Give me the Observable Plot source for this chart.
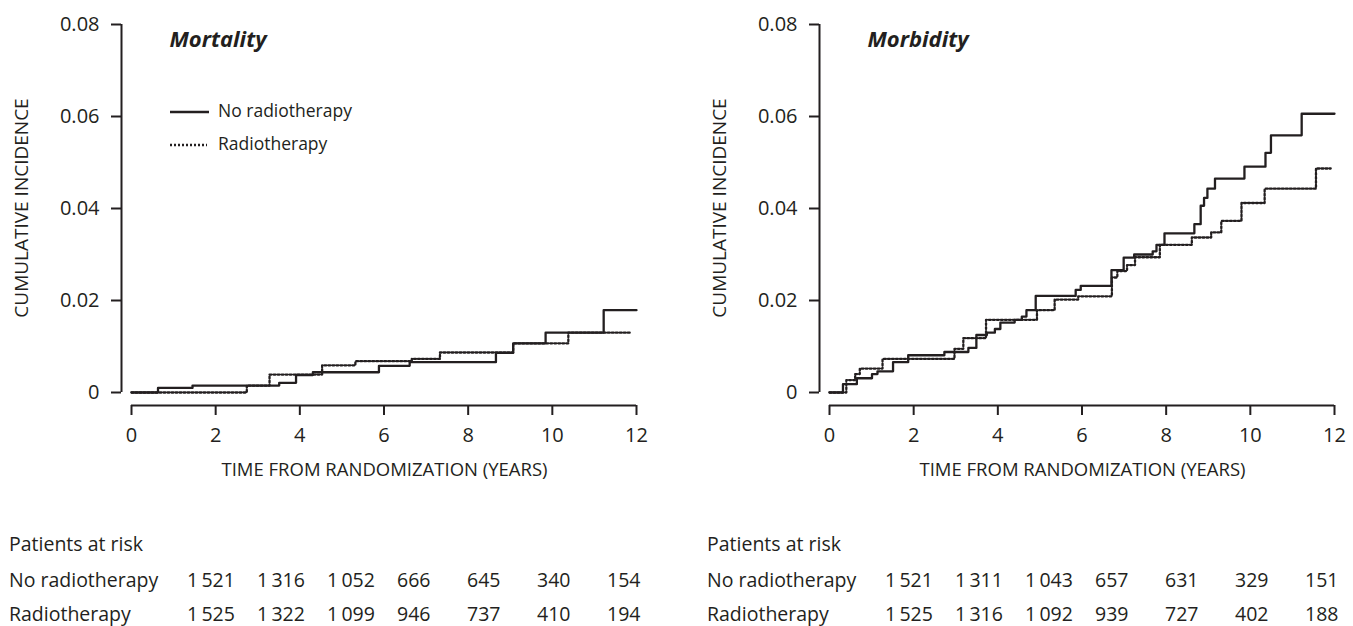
<!DOCTYPE html>
<html><head><meta charset="utf-8">
<script src="https://cdn.jsdelivr.net/npm/d3@7"></script>
<script src="https://cdn.jsdelivr.net/npm/@observablehq/plot@0.6"></script>
<style>
body{margin:0;background:#fff;font-family:"Open Sans",sans-serif;color:#231f20}
#root{position:relative;width:1353px;height:626px;overflow:hidden;background:#fff}
.lg{position:absolute;font-size:17.5px;line-height:18px;white-space:nowrap}
.tx{position:absolute;font-size:19.5px;line-height:19px;white-space:nowrap}
</style></head><body><div id="root"></div>
<script>
// ---- data ----
const xTicks = [0, 2, 4, 6, 8, 10, 12];
const yTicks = [0, 0.02, 0.04, 0.06, 0.08];
const seriesNames = ["No radiotherapy", "Radiotherapy"];

const mortNoRtTime  = [0, 0.63, 1.45, 3.51, 3.91, 4.31, 5.88, 6.61, 8.66, 9.07, 9.84, 11.22, 12.0];
const mortNoRtValue = [0, 0.0010, 0.0015, 0.0021, 0.0038, 0.0044, 0.0058, 0.0066, 0.0086, 0.0107, 0.0130, 0.0179, 0.0179];
const mortRtTime    = [0, 2.74, 3.28, 4.53, 5.32, 6.66, 7.33, 9.07, 10.38, 11.88];
const mortRtValue   = [0, 0.0015, 0.0039, 0.0059, 0.0068, 0.0073, 0.0087, 0.0107, 0.0130, 0.0130];

const morbNoRtTime  = [0, 0.32, 0.65, 1.01, 1.14, 1.51, 1.87, 2.73, 3.30, 3.49, 3.74, 3.93, 4.06, 4.40, 4.57, 4.68, 4.90, 5.85, 5.97, 6.70, 6.99, 7.24, 7.68, 7.77, 7.96, 8.67, 8.82, 8.90, 8.98, 9.16, 9.86, 10.36, 10.49, 11.22, 12.0];
const morbNoRtValue = [0, 0.0018, 0.0031, 0.0040, 0.0046, 0.0066, 0.0081, 0.0088, 0.0097, 0.0125, 0.0130, 0.0138, 0.0152, 0.0158, 0.0165, 0.0179, 0.0210, 0.0223, 0.0232, 0.0266, 0.0293, 0.0300, 0.0307, 0.0321, 0.0346, 0.0366, 0.0406, 0.0423, 0.0443, 0.0465, 0.0491, 0.0521, 0.0559, 0.0606, 0.0606];
const morbRtTime    = [0, 0.40, 0.61, 0.72, 1.26, 2.97, 3.18, 3.72, 4.93, 5.35, 5.91, 6.71, 6.84, 7.07, 7.26, 7.85, 8.61, 9.07, 9.31, 9.79, 10.34, 11.56, 11.91];
const morbRtValue   = [0, 0.0027, 0.0040, 0.0052, 0.0073, 0.0095, 0.0118, 0.0158, 0.0179, 0.0202, 0.0209, 0.0250, 0.0264, 0.0277, 0.0294, 0.0321, 0.0337, 0.0348, 0.0373, 0.0412, 0.0443, 0.0487, 0.0487];

const mortAtRiskNoRt = [1521, 1316, 1052, 666, 645, 340, 154];
const mortAtRiskRt   = [1525, 1322, 1099, 946, 737, 410, 194];
const morbAtRiskNoRt = [1521, 1311, 1043, 657, 631, 329, 151];
const morbAtRiskRt   = [1525, 1316, 1092, 939, 727, 402, 188];

// ---- drawing ----
const INK = "#231f20";
const DOTS = "2,2";
const root = document.getElementById("root");
const rows = (ts, vs) => ts.map((t, i) => ({t, v: vs[i]}));
const yFmt = d => d === 0 ? "0" : d.toFixed(2);

function panel(title, noT, noV, rT, rV) {
  return Plot.plot({
    width: 656, height: 500,
    marginLeft: 121, marginRight: 20, marginTop: 24, marginBottom: 95,
    x: {domain: [0, 12], insetLeft: 10},
    y: {domain: [0, 0.08], insetBottom: 13},
    style: {fontFamily: "Open Sans", fontSize: "20px", color: INK, background: "white"},
    marks: [
      Plot.axisX({ticks: xTicks, tickSize: 10, tickPadding: 12, label: null, strokeWidth: 2, fontSize: 20}),
      Plot.axisY({ticks: yTicks, tickSize: 10, tickPadding: 12, tickFormat: yFmt, label: null, strokeWidth: 2, fontSize: 20}),
      Plot.ruleX([0], {y1: 0, y2: 0.08, dx: -10, stroke: INK, strokeWidth: 2}),
      Plot.ruleY([0], {x1: 0, x2: 12, dy: 13, stroke: INK, strokeWidth: 2}),
      Plot.line(rows(rT, rV), {x: "t", y: "v", curve: "step-after", stroke: INK, strokeWidth: 2.3, strokeDasharray: DOTS}),
      Plot.line(rows(noT, noV), {x: "t", y: "v", curve: "step-after", stroke: INK, strokeWidth: 2.3}),
      Plot.text([title], {frameAnchor: "top-left", dx: 48, dy: 7, textAnchor: "start", fontWeight: "bold", fontStyle: "italic", fontSize: 22, fill: INK}),
      Plot.text(["CUMULATIVE INCIDENCE"], {frameAnchor: "left", textAnchor: "middle", rotate: -90, dx: -100, dy: -7, fontSize: 19, fill: INK}),
      Plot.text(["TIME FROM RANDOMIZATION (YEARS)"], {frameAnchor: "bottom", textAnchor: "middle", dx: 5.5, dy: 70, fontSize: 18.5, fill: INK})
    ]
  });
}

function place(el, left, top) {
  el.style.position = "absolute"; el.style.left = left + "px"; el.style.top = top + "px";
  root.appendChild(el);
}

place(panel("Mortality", mortNoRtTime, mortNoRtValue, mortRtTime, mortRtValue), 0, 0);
place(panel("Morbidity", morbNoRtTime, morbNoRtValue, morbRtTime, morbRtValue), 698, 0);

// legend (left panel)
function legendItem(name, dashed, left, top) {
  const d = document.createElement("div");
  d.className = "lg";
  d.innerHTML = `<svg width="40" height="6" style="vertical-align:middle;margin-right:8px"><line x1="0" x2="${dashed ? 37 : 39}" y1="3" y2="3" stroke="${INK}" stroke-width="2.3" ${dashed ? `stroke-dasharray="${DOTS}"` : ''}/></svg>${name}`;
  place(d, left, top);
}
legendItem(seriesNames[0], false, 170, 101);
legendItem(seriesNames[1], true, 170, 134);

// patients at risk tables
const fmtN = n => n >= 1000 ? `${Math.floor(n / 1000)}\u2009${String(n % 1000).padStart(3, "0")}` : String(n);
function table(x0, noRt, rt) {
  const mk = (text, left, baseline) => {
    const d = document.createElement("div");
    d.className = "tx"; d.textContent = text;
    place(d, left, baseline - 17);
  };
  mk("Patients at risk", x0, 551);
  mk(seriesNames[0], x0, 587);
  mk(seriesNames[1], x0, 621);
  noRt.forEach((n, i) => mk(fmtN(n), x0 + 178 + i * 70, 587));
  rt.forEach((n, i) => mk(fmtN(n), x0 + 178 + i * 70, 621));
}
table(9, mortAtRiskNoRt, mortAtRiskRt);
table(707, morbAtRiskNoRt, morbAtRiskRt);
</script></body></html>
